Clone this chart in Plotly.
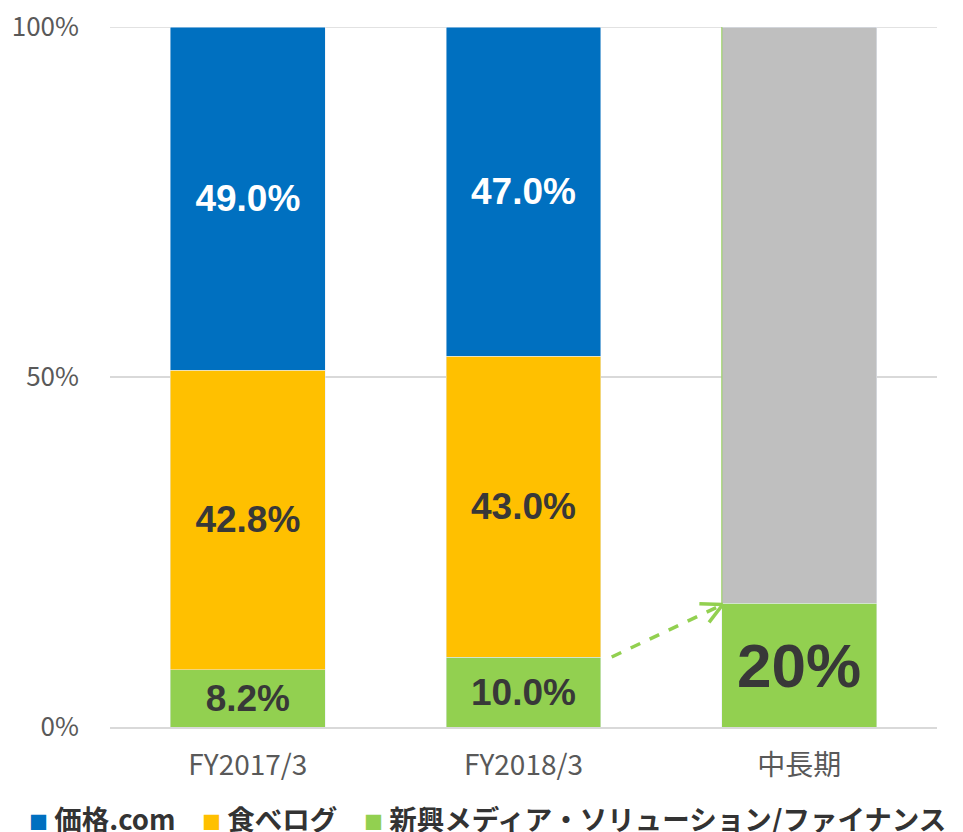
import plotly.graph_objects as go

categories = ["FY2017/3", "FY2018/3", "中長期"]
emerging = [8.2, 10.0, 17.7]
emerging_labels = ["8.2%", "10.0%", "20%"]
tabelog = [42.8, 43.0, None]
tabelog_labels = ["42.8%", "43.0%", ""]
kakaku = [49.0, 47.0, None]
kakaku_labels = ["49.0%", "47.0%", ""]
future_rest = [None, None, 82.3]

series_names = ["価格.com", "食べログ", "新興メディア・ソリューション/ファイナンス"]
C_BLUE, C_ORANGE, C_GREEN, C_GRAY = "#0070C0", "#FFC000", "#92D050", "#BFBFBF"
DARK = "#383838"
LBL_FONT = "Liberation Sans, Arial, sans-serif"
JP_FONT = "Noto Sans CJK JP, sans-serif"

# page offset of the plot div (browser default body margin)
OFF = 8
W, H = 963 - OFF, 832 - OFF
ML, MT = 110 - OFF, 27 - OFF
MR, MB = W - (937 - OFF), H - (727 - OFF)
PW, PH = W - ML - MR, H - MT - MB

fig = go.Figure()
common = dict(textposition="inside", insidetextanchor="middle", textangle=0,
              constraintext="none", hoverinfo="skip", showlegend=False)
fig.add_trace(go.Bar(x=categories, y=emerging, name=series_names[2], marker_color=C_GREEN,
                     text=emerging_labels,
                     textfont=dict(family=LBL_FONT, size=[37, 37, 62], color=DARK, weight="bold"),
                     **common))
fig.add_trace(go.Bar(x=categories, y=tabelog, name=series_names[1], marker_color=C_ORANGE,
                     text=tabelog_labels,
                     textfont=dict(family=LBL_FONT, size=37, color=DARK, weight="bold"),
                     **common))
fig.add_trace(go.Bar(x=categories, y=kakaku, name=series_names[0], marker_color=C_BLUE,
                     text=kakaku_labels,
                     textfont=dict(family=LBL_FONT, size=37, color="white", weight="bold"),
                     **common))
fig.add_trace(go.Bar(x=categories, y=future_rest, name="", marker_color=C_GRAY,
                     hoverinfo="skip", showlegend=False))

# dashed arrow from FY2018/3 to 中長期 (emerging share)
x0, y0 = 1.32, emerging[1]
x1, y1 = 2 - 0.281 + 0.004, emerging[2] - 0.2
shapes = [
    dict(type="line", xref="paper", yref="y", x0=0, x1=1, y0=100, y1=100, layer="below",
         line=dict(color="#D9D9D9", width=1.5)),
    dict(type="line", xref="x", yref="y", x0=x0, y0=y0, x1=x1, y1=y1,
         line=dict(color=C_GREEN, width=3.5, dash="dash")),
    dict(type="line", xref="x", yref="y", x0=x1, y0=y1, x1=x1 - 0.085, y1=y1 + 0.1,
         line=dict(color=C_GREEN, width=3.5)),
    dict(type="line", xref="x", yref="y", x0=x1, y0=y1, x1=x1 - 0.05, y1=y1 - 2.55,
         line=dict(color=C_GREEN, width=3.5)),
    dict(type="line", xref="x", yref="y", x0=2 - 0.2805, y0=emerging[2], x1=2 - 0.2805, y1=100,
         line=dict(color=C_GREEN, width=1)),
]

# legend (custom, bottom)
legend_items = [(C_BLUE, series_names[0], 27), (C_ORANGE, series_names[1], 200),
                (C_GREEN, series_names[2], 362)]
annotations = []
for col, name, px in legend_items:
    annotations.append(dict(
        xref="paper", yref="paper", x=(px - 110) / PW, y=-(818 - 727) / PH,
        xanchor="left", yanchor="middle", showarrow=False,
        text=f'<span style="color:{col};font-size:19px">■</span> {name}',
        font=dict(family=JP_FONT, size=27.5, color="#333333", weight="bold")))

fig.update_layout(
    width=W, height=H,
    margin=dict(l=ML, r=MR, t=MT, b=MB),
    barmode="stack", bargap=0.438,
    plot_bgcolor="white", paper_bgcolor="white",
    showlegend=False,
    shapes=shapes, annotations=annotations,
    xaxis=dict(tickfont=dict(family=JP_FONT, size=28, color="#595959"),
               showgrid=False, showline=True, linecolor="#D9D9D9", linewidth=2,
               ticks="", ticklabelstandoff=12, automargin=False),
    yaxis=dict(range=[0, 100], tickvals=[0, 50, 100], ticktext=["0%", "50%", "100%"],
               tickfont=dict(family=JP_FONT, size=26, color="#595959"),
               showgrid=True, gridcolor="#D9D9D9", gridwidth=1.5, zeroline=False,
               ticks="", ticklabelstandoff=30, automargin=False,
               ticklabeloverflow="allow"),
)

fig.write_html("out.html")
